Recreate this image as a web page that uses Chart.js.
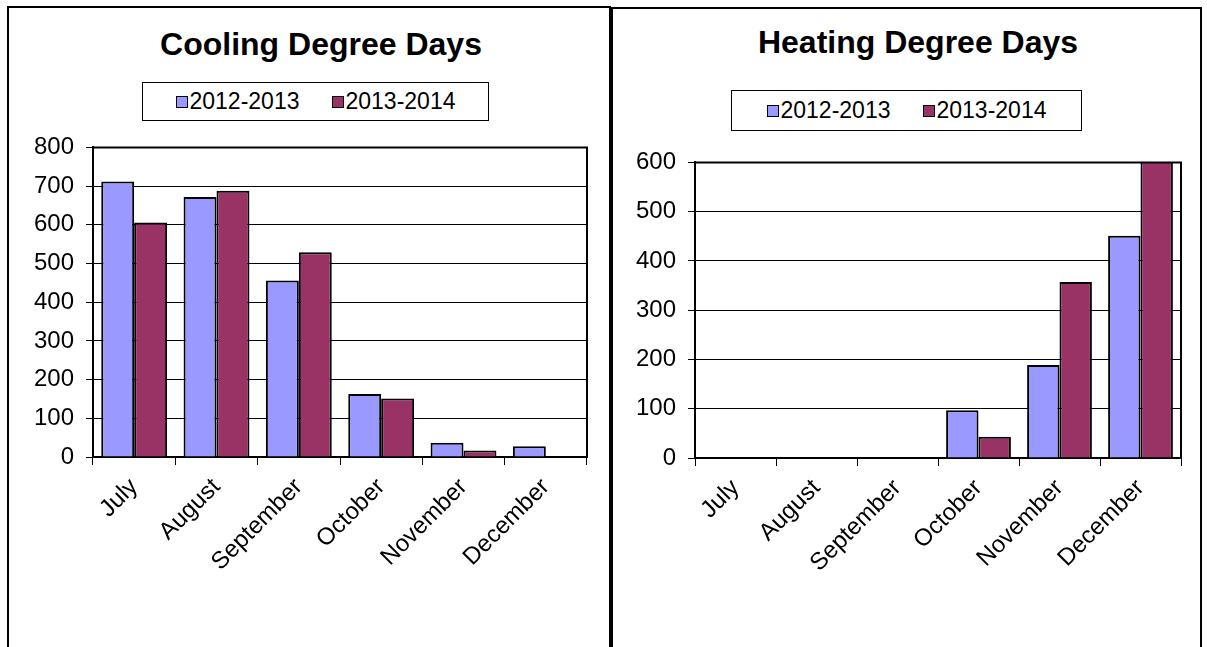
<!DOCTYPE html>
<html>
<head>
<meta charset="utf-8">
<script src="https://cdn.jsdelivr.net/npm/chart.js@4.4.1/dist/chart.umd.min.js"></script>
<style>
body { margin: 0; background: #fff; font-family: "Liberation Sans", Arial, sans-serif; width: 1207px; height: 647px; overflow: hidden; position: relative; }
.panel { position: absolute; border: 2px solid #000; background: #fff; box-sizing: border-box; }
.title { position: absolute; font-weight: bold; font-size: 32px; line-height: 32px; white-space: nowrap; transform: translateX(-50%); color: #000; }
.legend { position: absolute; border: 1px solid #000; box-sizing: border-box; display: flex; align-items: center; justify-content: center; font-size: 23px; color: #000; }
.legend .item { display: flex; align-items: center; margin: 0 16px; }
.legend .sw { width: 10px; height: 10px; border: 1px solid #000; margin-right: 2px; }
canvas { position: absolute; }
</style>
</head>
<body>
<div class="panel" style="left:7px;top:6px;width:604px;height:660px"></div>
<div class="panel" style="left:611px;top:7px;width:591px;height:660px"></div>

<div class="title" style="left:321px;top:28px">Cooling Degree Days</div>
<div class="title" style="left:918px;top:26px">Heating Degree Days</div>

<div class="legend" id="legCool" style="left:142px;top:82px;width:347px;height:39px"></div>
<div class="legend" id="legHeat" style="left:731px;top:90px;width:351px;height:41px"></div>

<canvas id="cool" width="600" height="500" style="left:8px;top:121px"></canvas>
<canvas id="heat" width="585" height="480" style="left:612px;top:136px"></canvas>

<script>
const months = ['July', 'August', 'September', 'October', 'November', 'December'];
const seasons = ['2012-2013', '2013-2014'];
const cooling1213 = [712, 672, 456, 163, 37, 28];
const cooling1314 = [606, 688, 529, 151, 17, 0];
const heating1213 = [0, 0, 0, 97, 189, 451];
const heating1314 = [0, 0, 0, 43, 357, 640];
const coolingTicks = [0, 100, 200, 300, 400, 500, 600, 700, 800];
const heatingTicks = [0, 100, 200, 300, 400, 500, 600];
const colors = ['#9999FF', '#993366'];

const font = { family: '"Liberation Sans", Arial, sans-serif', size: 24 };

// top and right edges of the plot box
const frame = {
    id: 'frame',
    afterDraw(chart) {
        const a = chart.chartArea, ctx = chart.ctx;
        ctx.save();
        ctx.strokeStyle = '#000';
        ctx.lineWidth = 2;
        ctx.beginPath();
        ctx.moveTo(a.left, a.top);
        ctx.lineTo(a.right, a.top);
        ctx.lineTo(a.right, a.bottom);
        ctx.stroke();
        ctx.restore();
    }
};

function fillLegend(id) {
    const el = document.getElementById(id);
    el.innerHTML = seasons.map((s, i) =>
        `<div class="item"><div class="sw" style="background:${colors[i]}"></div>${s}</div>`).join('');
}

function makeChart(id, a, b, ticks, yW, xH, padRight) {
    new Chart(document.getElementById(id), {
        type: 'bar',
        data: {
            labels: months,
            datasets: [a, b].map((d, i) => ({
                label: seasons[i],
                data: d,
                backgroundColor: colors[i],
                borderColor: '#000',
                borderWidth: 2,
                categoryPercentage: 0.8,
                barPercentage: 1.0
            }))
        },
        options: {
            responsive: false,
            animation: false,
            layout: { padding: { top: 10, right: padRight, left: 0, bottom: 0 } },
            plugins: { legend: { display: false }, title: { display: false }, tooltip: { enabled: false } },
            scales: {
                x: {
                    grid: { drawOnChartArea: false, drawTicks: true, tickLength: 8, color: '#000', lineWidth: 1, offset: true },
                    border: { color: '#000', width: 2 },
                    ticks: { color: '#000', font: font, minRotation: 45, maxRotation: 45, padding: 8 },
                    afterFit(s) { s.height = xH; }
                },
                y: {
                    min: 0,
                    max: ticks[ticks.length - 1],
                    afterBuildTicks(s) { s.ticks = ticks.map(v => ({ value: v })); },
                    grid: { color: '#000', lineWidth: 1, tickLength: 7 },
                    border: { color: '#000', width: 2 },
                    ticks: { color: '#000', font: font, padding: 12 },
                    afterFit(s) { s.width = yW; }
                }
            }
        },
        plugins: [frame]
    });
}

fillLegend('legCool');
fillLegend('legHeat');
makeChart('cool', cooling1213, cooling1314, coolingTicks, 85, 164, 21);
makeChart('heat', heating1213, heating1314, heatingTicks, 83, 158, 16);
</script>
</body>
</html>
